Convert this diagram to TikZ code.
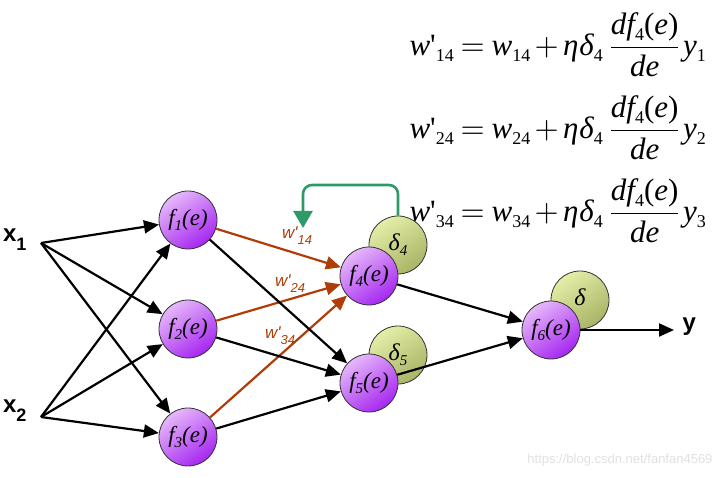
\documentclass[tikz,border=0pt]{standalone}
\usepackage{fontspec}
\usepackage{amsmath}
\usepackage{mathptmx}
\newfontfamily\arialf{Liberation Sans}
\newfontfamily\tnr{Liberation Serif}
\usetikzlibrary{arrows.meta}
\definecolor{wcol}{HTML}{B03C08}
\definecolor{gcol}{HTML}{2E9A68}
\definecolor{plight}{HTML}{E6B8FA}
\definecolor{pdark}{HTML}{A526F0}
\definecolor{glight}{HTML}{E4EEA8}
\definecolor{gdark}{HTML}{A9B466}
\tikzset{
  fnode/.style={circle, draw=black!80, line width=0.8pt, minimum size=58pt, inner sep=0pt,
    top color=plight, bottom color=pdark, shading angle=35, font=\tnr\itshape\fontsize{23}{26}\selectfont},
  dnode/.style={circle, draw=black!80, line width=0.8pt, minimum size=58pt, inner sep=0pt,
    top color=glight, bottom color=gdark, shading angle=35, font=\tnr\itshape\fontsize{24}{26}\selectfont},
  conn/.style={line width=2.2pt, -{Triangle[length=15pt,width=13pt]}},
  wconn/.style={conn, draw=wcol, color=wcol},
  wlab/.style={text=wcol, font=\arialf\itshape\fontsize{17}{18}\selectfont},
  inlab/.style={font=\arialf\fontsize{24}{26}\selectfont},
  eq/.style={font=\tnr\fontsize{31}{34}\selectfont, anchor=west}
}
\newcommand{\wsub}[1]{\raisebox{-6pt}{\fontsize{13}{14}\selectfont #1}}
\newcommand{\xsub}[1]{\raisebox{-9pt}{\fontsize{18}{18}\selectfont\bfseries #1}}
\newcommand{\fsub}[1]{\raisebox{-5pt}{\fontsize{15}{16}\selectfont #1}}
\newcommand{\esub}[1]{\raisebox{-6pt}{\fontsize{18}{18}\selectfont\upshape #1}}
\newcommand{\eqrow}[2]{%
  \hbox{\tnr\itshape w\upshape'\esub{#1}}\mathrel{=}
  \hbox{\tnr\itshape w\esub{#1}}+
  \hbox{\tnr\itshape η\kern1pt δ\esub{4}}\;
  \dfrac{\hbox{\tnr\itshape df\esub{4}\upshape(\itshape e\upshape)}}{\hbox{\tnr\itshape de}}\,
  \hbox{\tnr\itshape y\esub{#2}}}
\begin{document}
\begin{tikzpicture}[x=1pt,y=-1pt]
\useasboundingbox (0,0) rectangle (723,478);
% delta circles (behind)
\node[dnode] (d4) at (398,245) {\raisebox{-5pt}{δ\fsub{4}}};
\node[dnode] (d5) at (398,355) {\raisebox{-5pt}{δ\fsub{5}}};
\node[dnode] (d6) at (580,300) {\raisebox{5pt}{δ}};
% f nodes
\node[fnode] (f1) at (188,220) {f\fsub{1}(e)};
\node[fnode] (f2) at (188,329) {f\fsub{2}(e)};
\node[fnode] (f3) at (188,437) {f\fsub{3}(e)};
\node[fnode] (f4) at (369,276) {f\fsub{4}(e)};
\node[fnode] (f5) at (369,383) {f\fsub{5}(e)};
\node[fnode] (f6) at (551,330) {f\fsub{6}(e)};
% inputs
\coordinate (i1) at (41,243);
\coordinate (i2) at (41,417);
\node[inlab, anchor=east] (x1) at (30,240) {\textbf{x}\xsub{1}};
\node[inlab, anchor=east] (x2) at (30,411) {\textbf{x}\xsub{2}};
\coordinate (yend) at (674,330);
\node[inlab, anchor=west] (ylab) at (679,327) {\textbf{y}};
% edges
\foreach \t in {f1,f2,f3}{
  \draw[conn] (i1) -- (\t);
  \draw[conn] (i2) -- (\t);
}
\draw[wconn] (f1) -- (f4);
\draw[wconn] (f2) -- (f4);
\draw[wconn] (f3) -- (f4);
\draw[conn] (f1) -- (f5);
\draw[conn] (f2) -- (f5);
\draw[conn] (f3) -- (f5);
\draw[conn] (f4) -- (f6);
\draw[conn] (f5) -- (f6);
\draw[conn] (f6.east) -- (yend);
% weight labels
\node[wlab] (w14) at (297,236) {w'\wsub{14}};
\node[wlab] (w24) at (290,284) {w'\wsub{24}};
\node[wlab] (w34) at (280,336) {w'\wsub{34}};
% green feedback
\coordinate (gtip) at (303,228);
\draw[line width=2.6pt, draw=gcol, rounded corners=9pt, -{Triangle[length=17pt,width=19pt]}]
  (d4.north) -- (398,185) -- (303,185) -- (gtip);
% equations
\node[eq] (e1) at (406,45) {$\eqrow{14}{1}$};
\node[eq] (e2) at (406,128) {$\eqrow{24}{2}$};
\node[eq] (e3) at (406,211) {$\eqrow{34}{3}$};
% watermark
\node[font=\arialf\fontsize{13}{15}\selectfont, text=black!12, anchor=east] (wm) at (716,460) {https://blog.csdn.net/fanfan4569};
\end{tikzpicture}
\end{document}
